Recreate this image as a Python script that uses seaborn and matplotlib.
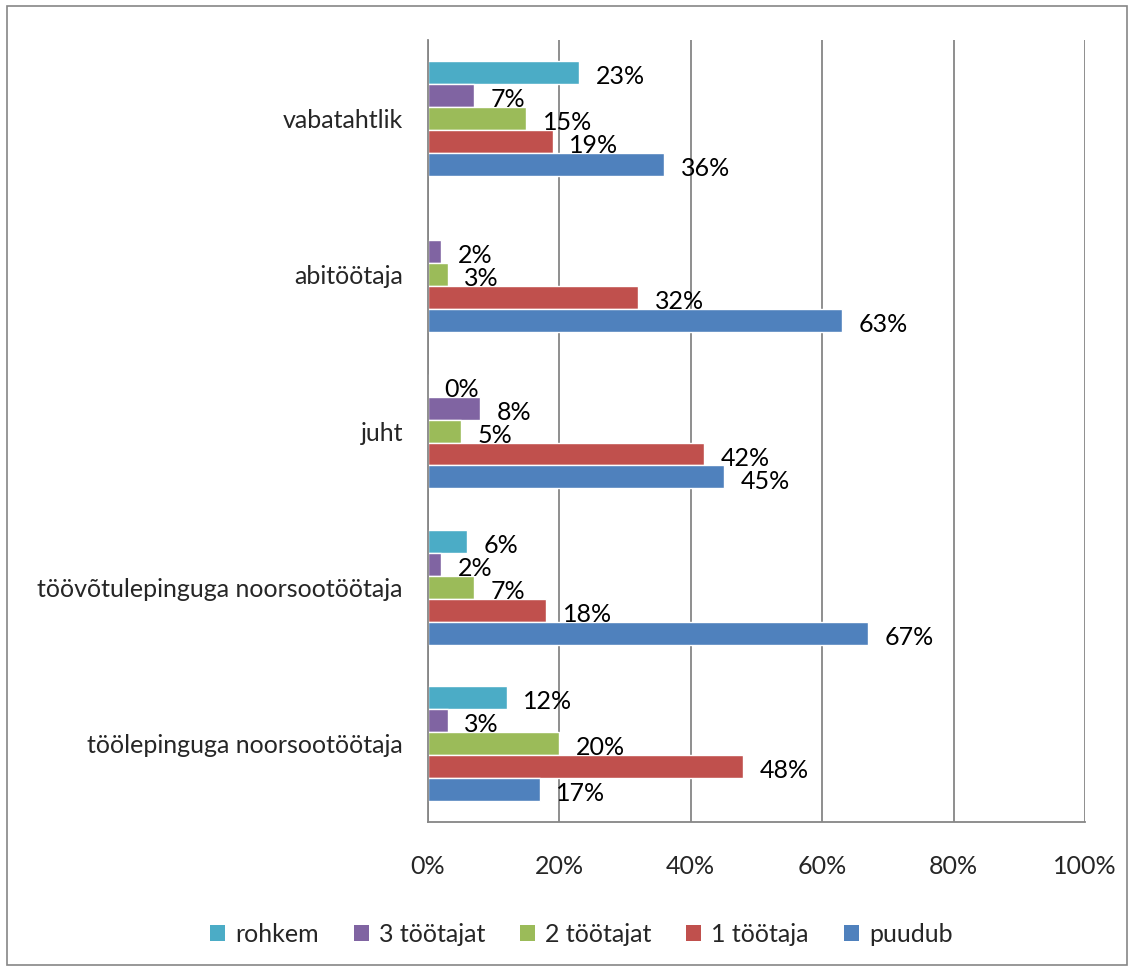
import numpy as np
import pandas as pd
import matplotlib
matplotlib.use("Agg")
import matplotlib.pyplot as plt
from matplotlib.patches import Patch, Rectangle
import seaborn as sns

categories = ["vabatahtlik", "abitöötaja", "juht",
              "töövõtulepinguga noorsootöötaja", "töölepinguga noorsootöötaja"]
series = ["rohkem", "3 töötajat", "2 töötajat", "1 töötaja", "puudub"]
rohkem = [23, np.nan, 0, 6, 12]
kolm = [7, 2, 8, 2, 3]
kaks = [15, 3, 5, 7, 20]
yks = [19, 32, 42, 18, 48]
puudub = [36, 63, 45, 67, 17]
xticks = [0, 20, 40, 60, 80, 100]
colors = ["#4BACC6", "#8064A2", "#9BBB59", "#C0504D", "#4F81BD"]

values = [rohkem, kolm, kaks, yks, puudub]
rows = []
for s, vals in zip(series, values):
    for c, v in zip(categories, vals):
        rows.append({"cat": c, "series": s, "val": v})
df = pd.DataFrame(rows)

sns.set_style("white")
plt.rcParams["font.family"] = ["Lato", "DejaVu Sans"]
FS = 18

fig = plt.figure(figsize=(11.33, 9.69), dpi=100)
ax = fig.add_axes([0.3777, 0.1517, 0.5799, 0.8070])

sns.barplot(data=df, y="cat", x="val", hue="series", order=categories,
            hue_order=series, palette=colors, orient="h", width=0.735,
            dodge=True, ax=ax, legend=False, errorbar=None, saturation=1)

for cont in ax.containers:
    for bar in cont:
        if bar is None:
            continue
        w = bar.get_width()
        if np.isnan(w):
            continue
        yc = bar.get_y() + bar.get_height() / 2
        ax.annotate(f"{int(round(w))}%", xy=(w, yc), xytext=(12, -3),
                    textcoords="offset points", ha="left", va="center",
                    fontsize=FS, color="black")

ax.set_xlim(0, 100)
ax.set_ylim(len(categories) - 0.5, -0.5)
ax.set_xticks(xticks)
ax.set_xticklabels([f"{t}%" for t in xticks], fontsize=FS)
ax.set_yticks(range(len(categories)))
ax.set_yticklabels(categories, fontsize=FS)
ax.set_xlabel("")
ax.set_ylabel("")
ax.grid(axis="x", color="#868686", linewidth=1.3)
ax.set_axisbelow(True)
for sp in ["top", "right"]:
    ax.spines[sp].set_visible(False)
for sp in ["left", "bottom"]:
    ax.spines[sp].set_color("#868686")
    ax.spines[sp].set_linewidth(1.3)
ax.tick_params(axis="y", length=0, pad=18)
ax.tick_params(axis="x", length=0, pad=24)
ax.set_yticks(np.arange(-0.5, len(categories), 1), minor=True)
ax.set_xticks(xticks, minor=True)
ax.tick_params(axis="y", which="minor", length=7, width=1.3, color="#868686", direction="out")
ax.tick_params(axis="x", which="minor", length=8, width=1.3, color="#868686", direction="out")

handles = [Patch(facecolor=c, edgecolor="none") for c in colors]
fig.legend(handles, series, loc="center", bbox_to_anchor=(0.513, 0.036),
           ncol=5, frameon=False, fontsize=FS, handlelength=0.6,
           handleheight=0.6, handletextpad=0.4, columnspacing=1.4)

fig.patches.append(Rectangle((0.006, 0.004), 0.989, 0.99, transform=fig.transFigure,
                             fill=False, edgecolor="#868686", linewidth=1.2))

fig.savefig("out.png", dpi=100)
